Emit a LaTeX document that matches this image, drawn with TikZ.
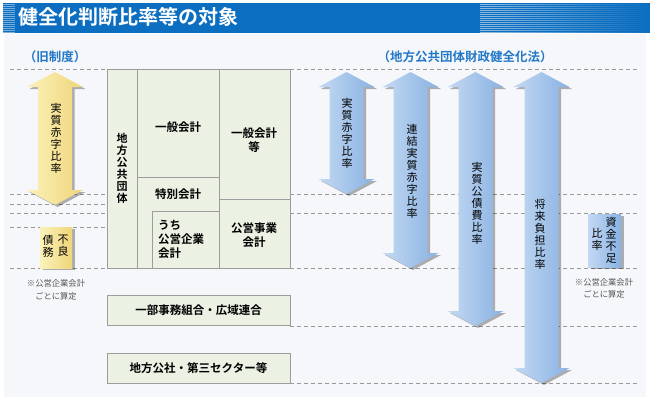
\documentclass[tikz,border=0pt]{standalone}
\usepackage{fontspec}
\setmainfont{Noto Sans CJK JP}[BoldFont={Noto Sans CJK JP Bold}]
\usetikzlibrary{shadows,fadings}

\definecolor{barblue}{HTML}{0B6EC0}
\definecolor{headblue}{HTML}{2277C6}
\definecolor{panel}{HTML}{F6F7FB}
\definecolor{boxgreen}{HTML}{EBF2E3}
\definecolor{boxline}{HTML}{9C9C9C}
\definecolor{guidegray}{HTML}{9A9A9A}
\definecolor{notegray}{HTML}{555555}
\definecolor{blueL}{HTML}{C4D9F2}
\definecolor{blueR}{HTML}{88B2E3}
\definecolor{yellowL}{HTML}{FBF2BA}
\definecolor{yellowR}{HTML}{EFD579}

% double arrow: centre x, top tip, bottom tip, style
\newcommand\vdarrow[4]{%
  \path[#4] (#1,#2) -- (#1+28,#2+15) -- (#1+17,#2+15) -- (#1+17,#3-15)
    -- (#1+28,#3-15) -- (#1,#3) -- (#1-28,#3-15) -- (#1-17,#3-15)
    -- (#1-17,#2+15) -- (#1-28,#2+15) -- cycle;}

\tikzset{
  acct/.style={draw=boxline, fill=boxgreen, line width=.8pt},
  guide/.style={draw=guidegray, line width=.9pt, dash pattern=on 4pt off 3pt},
  arrshadow/.style={drop shadow={shadow xshift=2.5pt, shadow yshift=-2pt,
      fill=black, opacity=.3}},
  bluearr/.style={arrshadow, left color=blueL, right color=blueR},
  yellowarr/.style={arrshadow, left color=yellowL, right color=yellowR},
  boxtext/.style={font=\bfseries\fontsize{11.5}{14}\selectfont, align=center},
  vtext/.style={font=\fontsize{11}{12}\selectfont, align=center, inner sep=0pt},
  head/.style={font=\bfseries\fontsize{12.5}{14}\selectfont, text=headblue},
  note/.style={font=\fontsize{8.3}{10}\selectfont, text=notegray, inner sep=0pt},
}

\begin{document}
\begin{tikzpicture}[x=1pt,y=-1pt]
    \useasboundingbox (0,0) rectangle (650,400);
    \fill[white] (0,0) rectangle (650,400);
    \fill[panel] (4,34) rectangle (646,397);

    %title bar:
    \fill[barblue] (3,3) rectangle (650,33);
    \foreach \y in {4,6,...,32}
        \draw[white, opacity=.45, line width=.8pt] (3,\y) -- (15,\y);
    \foreach \y in {4,6,...,32}
        \draw[white, opacity=.55, line width=.8pt, path fading=east] (480,\y) -- (650,\y);
    \node[anchor=west, text=white, font=\bfseries\fontsize{20}{21}\selectfont] (title) at (15,17) {健全化判断比率等の対象};

    %headings:
    \node[head] (kyu) at (55,57) {（旧制度）};
    \node[head] (hou) at (465,57) {（地方公共団体財政健全化法）};

    %guide lines:
    \foreach \y in {69,194,204,213,227,268}
        \draw[guide] (10,\y) -- (107,\y);
    \foreach \y in {69,194,213,268,326,383}
        \draw[guide] (290,\y) -- (637,\y);

    %accounts:
    \draw[acct] (107,69) rectangle (137,268);
    \draw[acct] (137,69) rectangle (219,177);
    \draw[acct] (137,177) rectangle (219,268);
    \draw[acct] (152,211) rectangle (219,268);
    \draw[acct] (219,69) rectangle (290,199);
    \draw[acct] (219,199) rectangle (290,268);
    \draw[acct] (107,295) rectangle (290,325);
    \draw[acct] (107,353) rectangle (290,383);

    \node[boxtext, inner sep=0pt, font=\bfseries\fontsize{11}{12}\selectfont] (dantai) at (122,168) {地\\方\\公\\共\\団\\体};
    \node[boxtext] (ippan) at (178,127) {一般会計};
    \node[boxtext] (ippanto) at (254,140) {一般会計\\等};
    \node[boxtext] (tokubetsu) at (178,194) {特別会計};
    \node[boxtext, align=left, anchor=west, inner sep=0pt] (kouei) at (158,239) {うち\\公営企業\\会計};
    \node[boxtext] (jigyo) at (254,235) {公営事業\\会計};
    \node[boxtext] (ichibu) at (198.5,310) {一部事務組合・広域連合};
    \node[boxtext] (kousha) at (198.5,368) {地方公社・第三セクター等};

    %old system:
    \vdarrow{55}{72}{205}{yellowarr}
    \node[vtext] (akaji old) at (56,138) {実\\質\\赤\\字\\比\\率};
    \path[yellowarr] (40,227) rectangle (72,268);
    \node[vtext] (furyo a) at (63,246) {不\\良};
    \node[vtext] (furyo b) at (48,246) {債\\務};
    \node[note] (note l1) at (56,283) {※公営企業会計};
    \node[note] (note l2) at (56,296) {ごとに算定};

    %new law:
    \vdarrow{346.5}{72}{194}{bluearr}
    \vdarrow{410.5}{72}{268}{bluearr}
    \vdarrow{475.5}{72}{326}{bluearr}
    \vdarrow{541.5}{72}{383}{bluearr}
    \node[vtext] (akaji) at (347,133) {実\\質\\赤\\字\\比\\率};
    \node[vtext] (renketsu) at (412,171) {連\\結\\実\\質\\赤\\字\\比\\率};
    \node[vtext] (kousai) at (477,203) {実\\質\\公\\債\\費\\比\\率};
    \node[vtext] (shorai) at (540,234) {将\\来\\負\\担\\比\\率};
    \path[bluearr] (588,214) rectangle (621,267);
    \node[vtext] (shikin a) at (611,240) {資\\金\\不\\足};
    \node[vtext] (shikin b) at (597,239) {比\\率};
    \node[note] (note r1) at (604,282) {※公営企業会計};
    \node[note] (note r2) at (604,294) {ごとに算定};

\end{tikzpicture}
\end{document}
